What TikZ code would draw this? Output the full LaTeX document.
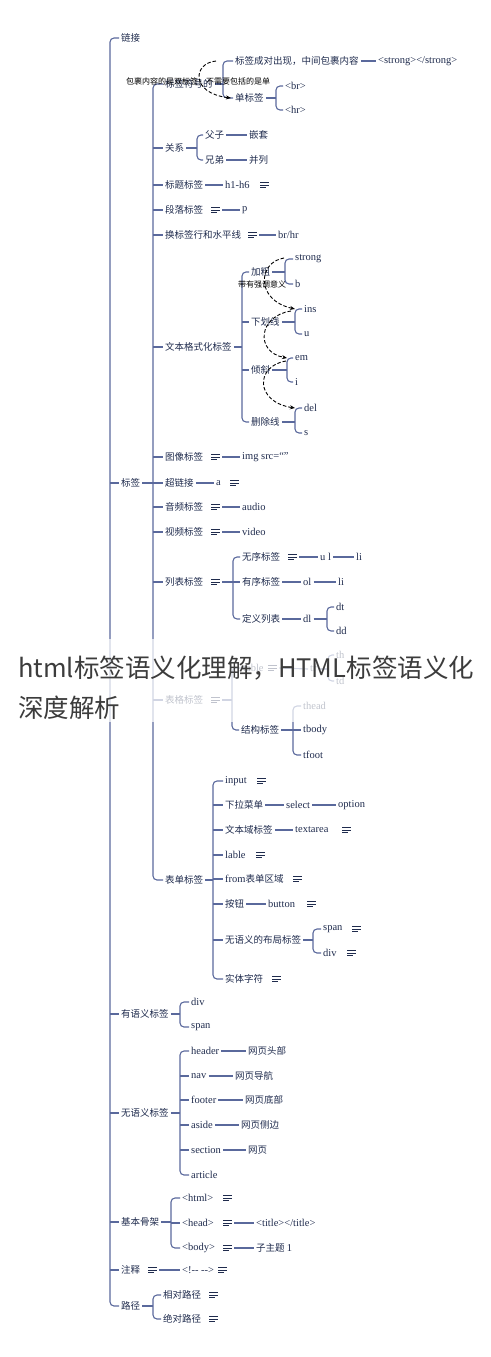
\documentclass[tikz,border=0pt]{standalone}
\usepackage{fontspec}
\setmainfont{Liberation Serif}
\newfontfamily\cjk{Noto Sans CJK SC}
\usetikzlibrary{arrows.meta}
\definecolor{lnc}{HTML}{5A699C}
\definecolor{txc}{HTML}{1F2B4D}
\newcommand{\zhf}{\cjk\fontsize{9.5}{11}\selectfont}
\newcommand{\enf}{\normalfont\fontsize{10.5}{12}\selectfont}
\newcommand{\brkt}[3]{\draw[brk] (#2.west) -- (#2.west -| #1) -- (#3.west -| #1) -- (#3.west);}
\newcommand{\brmid}[2]{\foreach \c in {#2} {\draw[lin] (\c.west -| #1) -- (\c.west);}}
\newcommand{\tobr}[2]{\draw[lin] (#1.east) -- (#1.east -| #2);}
\tikzset{
  zt/.style={anchor=west,inner xsep=2pt,inner ysep=1pt,text=txc,font=\zhf},
  et/.style={zt,font=\enf},
  icon/.style={anchor=west,minimum width=13pt,minimum height=9pt,inner sep=0pt,
    path picture={
      \draw[txc,line width=0.8pt] ([xshift=2pt,yshift=2.6pt]path picture bounding box.west) -- ++(9pt,0pt);
      \draw[txc,line width=0.8pt] ([xshift=2pt]path picture bounding box.west) -- ++(9pt,0pt);
      \draw[txc,line width=0.8pt] ([xshift=2pt,yshift=-2.6pt]path picture bounding box.west) -- ++(6pt,0pt);}},
  lin/.style={draw=lnc,line width=1.1pt},
  brk/.style={lin,rounded corners=4pt},
  note/.style={anchor=west,inner sep=0pt,font=\cjk\fontsize{8}{9}\selectfont,text=black},
  rel/.style={draw=black,line width=0.9pt,dash pattern=on 3.5pt off 2pt,-{Stealth[length=5pt,width=4pt]}},
  ttl/.style={anchor=west,inner sep=0pt,font=\cjk\fontsize{25.5}{30}\selectfont,text={rgb,255:red,60;green,60;blue,60}}
}
\begin{document}
\begin{tikzpicture}[x=1pt,y=-1pt]
\useasboundingbox (0,0) rectangle (490,1357);
% ---------- root children
\node[zt] (lj) at (119,38) {链接};
\node[zt] (bq) at (119,483) {标签};
\node[zt] (yy) at (119,1014) {有语义标签};
\node[zt] (wy) at (119,1113) {无语义标签};
\node[zt] (gj) at (119,1222) {基本骨架};
\node[zt] (zs) at (119,1270) {注释};
\node[zt] (lu) at (119,1306) {路径};
\coordinate (B0) at (110,0);
% ---------- 标签 children
\node[zt] (fh) at (163,84) {标签符号的};
\node[zt] (gx) at (163,148) {关系};
\node[zt] (btq) at (163,185) {标题标签};
\node[zt] (dlq) at (163,210) {段落标签};
\node[zt] (hh) at (163,235) {换标签行和水平线};
\node[zt] (wb) at (163,347) {文本格式化标签};
\node[zt] (txq) at (163,457) {图像标签};
\node[zt] (clj) at (163,483) {超链接};
\node[zt] (yp) at (163,507) {音频标签};
\node[zt] (sp) at (163,532) {视频标签};
\node[zt] (lb) at (163,582) {列表标签};
\node[zt] (bg) at (163,700) {表格标签};
\node[zt] (bd) at (163,880) {表单标签};
\coordinate (B1) at (153,0);
% fh
\node[zt] (cd) at (233,61) {标签成对出现，中间包裹内容};
\node[et] (strongp) at (376,61) {<strong></strong>};
\node[zt] (dbq) at (233,98) {单标签};
\node[et] (brt) at (283,86) {<br>};
\node[et] (hrt) at (283,110) {<hr>};
\coordinate (B2) at (223,0);
\coordinate (B3) at (276,0);
% 关系
\node[zt] (fz) at (203,135) {父子};
\node[zt] (qt) at (247,135) {嵌套};
\node[zt] (xd) at (203,160) {兄弟};
\node[zt] (bl) at (247,160) {并列};
\coordinate (B4) at (197,0);
% simple rows
\node[et] (h16) at (223,185) {h1-h6};
\node[icon] (i1) at (258,185) {};
\node[icon] (i2) at (209,210) {};
\node[et] (pp) at (240,210) {p};
\node[icon] (i3) at (246,235) {};
\node[et] (brhr) at (276,235) {br/hr};
% 文本格式化
\coordinate (B5) at (242,0);
\node[zt] (jc) at (249,272) {加粗};
\node[et] (str) at (293,259) {strong};
\node[et] (bb) at (293,284) {b};
\coordinate (B6) at (285,0);
\node[zt] (xhx) at (249,322) {下划线};
\node[et] (ins) at (302,309) {ins};
\node[et] (uu) at (302,334) {u};
\coordinate (B7) at (295,0);
\node[zt] (qx) at (249,370) {倾斜};
\node[et] (em) at (293,358) {em};
\node[et] (ii) at (293,382) {i};
\coordinate (B8) at (287,0);
\node[zt] (scx) at (249,422) {删除线};
\node[et] (del) at (302,408) {del};
\node[et] (ss) at (302,433) {s};
\coordinate (B9) at (295,0);
% media
\node[icon] (i4) at (209,457) {};
\node[et] (img) at (240,457) {img src=“”};
\node[et] (aa) at (214,483) {a};
\node[icon] (i5) at (228,483) {};
\node[icon] (i6) at (209,507) {};
\node[et] (aud) at (240,507) {audio};
\node[icon] (i7) at (209,532) {};
\node[et] (vid) at (240,532) {video};
% 列表
\node[icon] (i8) at (209,582) {};
\coordinate (B10) at (233,0);
\node[zt] (wx) at (240,557) {无序标签};
\node[icon] (i9) at (286,557) {};
\node[et] (ul) at (318,557) {u l};
\node[et] (li1) at (354,557) {li};
\node[zt] (yx) at (240,582) {有序标签};
\node[et] (ol) at (301,582) {ol};
\node[et] (li2) at (336,582) {li};
\node[zt] (dy) at (240,619) {定义列表};
\node[et] (dlt) at (301,619) {dl};
\coordinate (B11) at (327,0);
\node[et] (dt) at (334,607) {dt};
\node[et] (dd) at (334,631) {dd};
% 表格
\node[icon] (i10) at (209,700) {};
\coordinate (B12) at (232,0);
\node[et] (tab) at (241,668) {table};
\node[icon] (i11) at (266,668) {};
\node[et] (trr) at (308,669) {tr};
\coordinate (B13) at (328,0);
\node[et] (th) at (334,655) {th};
\node[et] (td) at (334,681) {td};
\node[zt] (jg) at (239,730) {结构标签};
\coordinate (B14) at (293,0);
\node[et] (thead) at (301,706) {thead};
\node[et] (tbody) at (301,730) {tbody};
\node[et] (tfoot) at (301,755) {tfoot};
% 表单
\coordinate (B15) at (213,0);
\node[et] (inp) at (223,781) {input};
\node[icon] (i12) at (255,781) {};
\node[zt] (xl) at (223,805) {下拉菜单};
\node[et] (sel) at (284,805) {select};
\node[et] (opt) at (336,805) {option};
\node[zt] (wby) at (223,830) {文本域标签};
\node[et] (ta) at (293,830) {textarea};
\node[icon] (i13) at (340,830) {};
\node[et] (lab) at (223,855) {lable};
\node[icon] (i14) at (254,855) {};
\node[zt] (frm) at (223,879) {{\enf from}表单区域};
\node[icon] (i15) at (291,879) {};
\node[zt] (an) at (223,904) {按钮};
\node[et] (btn) at (266,904) {button};
\node[icon] (i16) at (305,904) {};
\node[zt] (wyb) at (223,940) {无语义的布局标签};
\coordinate (B16) at (313,0);
\node[et] (spn) at (321,929) {span};
\node[icon] (i17) at (350,929) {};
\node[et] (dv) at (321,953) {div};
\node[icon] (i18) at (345,953) {};
\node[zt] (st) at (223,979) {实体字符};
\node[icon] (i19) at (270,979) {};
% 有语义 / 无语义
\coordinate (B17) at (180,0);
\node[et] (dv2) at (189,1002) {div};
\node[et] (spn2) at (189,1027) {span};
\node[et] (hd) at (189,1051) {header};
\node[zt] (w1) at (246,1051) {网页头部};
\node[et] (nav) at (189,1076) {nav};
\node[zt] (w2) at (233,1076) {网页导航};
\node[et] (foot) at (189,1100) {footer};
\node[zt] (w3) at (243,1100) {网页底部};
\node[et] (asd) at (189,1125) {aside};
\node[zt] (w4) at (239,1125) {网页侧边};
\node[et] (sect) at (189,1150) {section};
\node[zt] (w5) at (246,1150) {网页};
\node[et] (art) at (189,1175) {article};
% 基本骨架
\coordinate (B18) at (171,0);
\node[et] (html) at (180,1198) {<html>};
\node[icon] (i20) at (221,1198) {};
\node[et] (head) at (180,1223) {<head>};
\node[icon] (i21) at (221,1223) {};
\node[et] (titl) at (254,1223) {<title></title>};
\node[et] (body) at (180,1248) {<body>};
\node[icon] (i22) at (221,1248) {};
\node[zt] (zzt) at (254,1248) {子主题 {\enf 1}};
% 注释
\node[icon] (i23) at (146,1270) {};
\node[et] (cmt) at (180,1270) {<!-{}- -{}->};
\node[icon] (i24) at (216,1270) {};
% 路径
\coordinate (B19) at (153,0);
\node[zt] (xd1) at (161,1295) {相对路径};
\node[icon] (i25) at (207,1295) {};
\node[zt] (jd1) at (161,1319) {绝对路径};
\node[icon] (i26) at (207,1319) {};

% ---------- connectors
\brkt{B0}{lj}{lu}
\brmid{B0}{bq,yy,wy,gj,zs}
\tobr{bq}{B1}
\brkt{B1}{fh}{bd}
\brmid{B1}{gx,btq,dlq,hh,wb,txq,clj,yp,sp,lb,bg}
\tobr{fh}{B2}
\brkt{B2}{cd}{dbq}
\draw[lin] (cd.east) -- (strongp.west);
\tobr{dbq}{B3}
\brkt{B3}{brt}{hrt}
\tobr{gx}{B4}
\brkt{B4}{fz}{xd}
\draw[lin] (fz.east) -- (qt.west);
\draw[lin] (xd.east) -- (bl.west);
\draw[lin] (btq.east) -- (h16.west);
\draw[lin] (i2.east) -- (pp.west);
\draw[lin] (i3.east) -- (brhr.west);
\tobr{wb}{B5}
\brkt{B5}{jc}{scx}
\brmid{B5}{xhx,qx}
\tobr{jc}{B6}
\brkt{B6}{str}{bb}
\tobr{xhx}{B7}
\brkt{B7}{ins}{uu}
\tobr{qx}{B8}
\brkt{B8}{em}{ii}
\tobr{scx}{B9}
\brkt{B9}{del}{ss}
\draw[lin] (i4.east) -- (img.west);
\draw[lin] (clj.east) -- (aa.west);
\draw[lin] (i6.east) -- (aud.west);
\draw[lin] (i7.east) -- (vid.west);
\tobr{i8}{B10}
\brkt{B10}{wx}{dy}
\brmid{B10}{yx}
\draw[lin] (i9.east) -- (ul.west);
\draw[lin] (ul.east) -- (li1.west);
\draw[lin] (yx.east) -- (ol.west);
\draw[lin] (ol.east) -- (li2.west);
\draw[lin] (dy.east) -- (dlt.west);
\tobr{dlt}{B11}
\brkt{B11}{dt}{dd}
\tobr{i10}{B12}
\brkt{B12}{tab}{jg}
\draw[lin] (i11.east) -- (trr.west);
\tobr{trr}{B13}
\brkt{B13}{th}{td}
\tobr{jg}{B14}
\brkt{B14}{thead}{tfoot}
\brmid{B14}{tbody}
\tobr{bd}{B15}
\brkt{B15}{inp}{st}
\brmid{B15}{xl,wby,lab,frm,an,wyb}
\draw[lin] (xl.east) -- (sel.west);
\draw[lin] (sel.east) -- (opt.west);
\draw[lin] (wby.east) -- (ta.west);
\draw[lin] (an.east) -- (btn.west);
\tobr{wyb}{B16}
\brkt{B16}{spn}{dv}
\tobr{yy}{B17}
\brkt{B17}{dv2}{spn2}
\tobr{wy}{B17}
\brkt{B17}{hd}{art}
\brmid{B17}{nav,foot,asd,sect}
\draw[lin] (hd.east) -- (w1.west);
\draw[lin] (nav.east) -- (w2.west);
\draw[lin] (foot.east) -- (w3.west);
\draw[lin] (asd.east) -- (w4.west);
\draw[lin] (sect.east) -- (w5.west);
\tobr{gj}{B18}
\brkt{B18}{html}{body}
\brmid{B18}{head}
\draw[lin] (i21.east) -- (titl.west);
\draw[lin] (i22.east) -- (zzt.west);
\draw[lin] (i23.east) -- (cmt.west);
\tobr{lu}{B19}
\brkt{B19}{xd1}{jd1}

% ---------- relation arrows
\coordinate (d1s) at (216,61);
\draw[rel] (d1s) .. controls (193,63) and (190,93) .. ([xshift=-2pt]dbq.west);
\node[note] (n1) at (126,82) {包裹内容的是双标签，不需要包括的是单};
\coordinate (d2s) at (284,258);
\draw[rel] (d2s) .. controls (258,262) and (255,300) .. (ins.west -| B7);
\node[note] (n2) at (238,284) {带有强调意义};
\coordinate (d3s) at (291,311);
\draw[rel] (d3s) .. controls (258,316) and (255,352) .. (em.west -| B8);
\coordinate (d4s) at (286,361);
\draw[rel] (d4s) .. controls (255,366) and (255,402) .. (del.west -| B9);

% ---------- overlay title
\fill[white,opacity=0.72] (0,639) rectangle (490,722);
\node[ttl] (tt1) at (18,668) {html标签语义化理解，HTML标签语义化};
\node[ttl] (tt2) at (18,708) {深度解析};
\end{tikzpicture}
\end{document}
